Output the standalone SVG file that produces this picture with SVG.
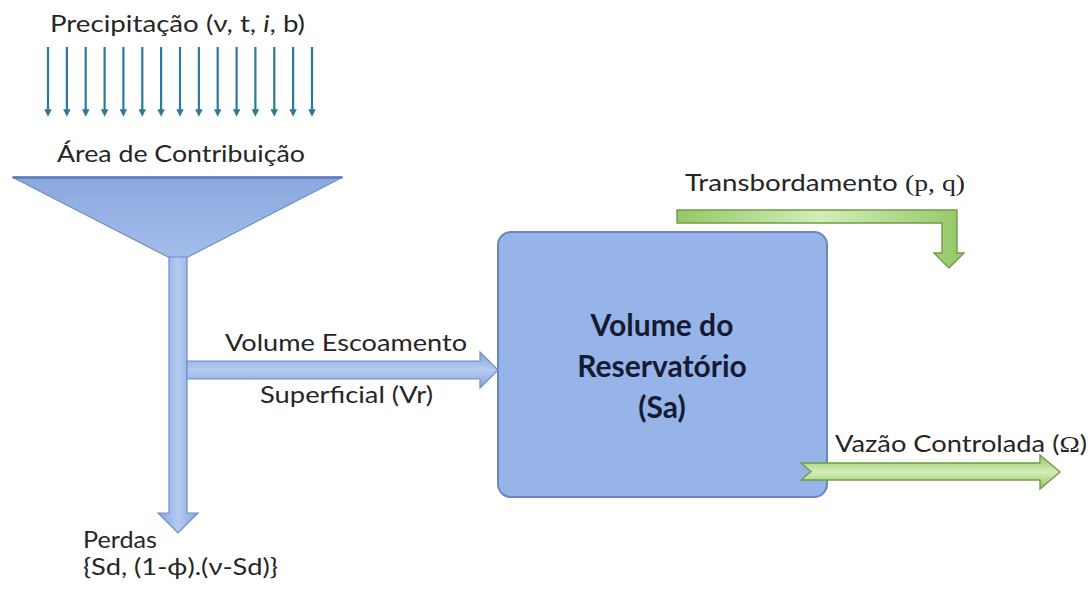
<svg xmlns="http://www.w3.org/2000/svg" width="1091" height="591" viewBox="0 0 1091 591">
  <defs>
    <style>
      .lbl { font-family: Lato, "Open Sans", "Liberation Sans", sans-serif; font-size: 23px; fill: #262626; }
      .ser { font-family: "Liberation Serif", "DejaVu Serif", serif; }
      .box { font-family: Lato, "Open Sans", "Liberation Sans", sans-serif; font-size: 30px; font-weight: bold; fill: #141b33; text-anchor: middle; }
      .rain { stroke: #2c7a9a; stroke-width: 2.2; fill: none; marker-end: url(#rainHead); }
      .blue { fill: url(#blueV); stroke: #6f8ec6; stroke-width: 1.2; }
      .blueH { fill: url(#blueH); stroke: #6f8ec6; stroke-width: 1.2; }
      .green { fill: url(#greenH); stroke: #6f9c48; stroke-width: 1.4; }
      .greenV { fill: url(#greenV); stroke: #6f9c48; stroke-width: 1.4; }
    </style>
    <marker id="rainHead" viewBox="0 0 10 10" refX="5" refY="5" markerWidth="3.4" markerHeight="3.4" orient="auto">
      <path d="M0,0 L10,5 L0,10 z" fill="#2c7a9a"/>
    </marker>
    <linearGradient id="blueV" x1="0" y1="0" x2="1" y2="0">
      <stop offset="0" stop-color="#86a5dd"/>
      <stop offset="0.5" stop-color="#b4cbf2"/>
      <stop offset="1" stop-color="#86a5dd"/>
    </linearGradient>
    <linearGradient id="blueH" x1="0" y1="0" x2="0" y2="1">
      <stop offset="0" stop-color="#86a5dd"/>
      <stop offset="0.5" stop-color="#b4cbf2"/>
      <stop offset="1" stop-color="#86a5dd"/>
    </linearGradient>
    <linearGradient id="funnelG" x1="0" y1="0" x2="0" y2="1">
      <stop offset="0" stop-color="#8aa8de"/>
      <stop offset="1" stop-color="#a3bdec"/>
    </linearGradient>
    <linearGradient id="greenH" x1="0" y1="0" x2="0" y2="1">
      <stop offset="0" stop-color="#94c866"/>
      <stop offset="0.5" stop-color="#d3edb8"/>
      <stop offset="1" stop-color="#94c866"/>
    </linearGradient>
    <linearGradient id="greenV" x1="0" y1="0" x2="1" y2="0">
      <stop offset="0" stop-color="#94c866"/>
      <stop offset="0.5" stop-color="#d3edb8"/>
      <stop offset="1" stop-color="#94c866"/>
    </linearGradient>
  </defs>

  <g id="precipitacao">
    <text class="lbl" x="50" y="32" textLength="255" lengthAdjust="spacingAndGlyphs">Precipitação (ν, t, <tspan font-style="italic">i</tspan>, b)</text>
    <g id="rain">
      <line class="rain" x1="48" y1="47" x2="48" y2="113"/>
      <line class="rain" x1="66.9" y1="47" x2="66.9" y2="113"/>
      <line class="rain" x1="85.7" y1="47" x2="85.7" y2="113"/>
      <line class="rain" x1="104.6" y1="47" x2="104.6" y2="113"/>
      <line class="rain" x1="123.4" y1="47" x2="123.4" y2="113"/>
      <line class="rain" x1="142.3" y1="47" x2="142.3" y2="113"/>
      <line class="rain" x1="161.1" y1="47" x2="161.1" y2="113"/>
      <line class="rain" x1="180" y1="47" x2="180" y2="113"/>
      <line class="rain" x1="198.9" y1="47" x2="198.9" y2="113"/>
      <line class="rain" x1="217.7" y1="47" x2="217.7" y2="113"/>
      <line class="rain" x1="236.6" y1="47" x2="236.6" y2="113"/>
      <line class="rain" x1="255.4" y1="47" x2="255.4" y2="113"/>
      <line class="rain" x1="274.3" y1="47" x2="274.3" y2="113"/>
      <line class="rain" x1="293.1" y1="47" x2="293.1" y2="113"/>
      <line class="rain" x1="312" y1="47" x2="312" y2="113"/>
    </g>
  </g>

  <g id="area-contribuicao">
    <text class="lbl" x="57" y="162" textLength="248" lengthAdjust="spacingAndGlyphs">Área de Contribuição</text>
    <polygon points="12,177 343,177 186,258 170,258" fill="url(#funnelG)" stroke="#6f8ec6" stroke-width="1.2"/>
    <line x1="13" y1="177.5" x2="342" y2="177.5" stroke="#5d7db8" stroke-width="2.5"/>
  </g>

  <g id="reservatorio">
    <rect x="498" y="232" width="329" height="265" rx="13" ry="13" fill="#97b4e8" stroke="#6a88c0" stroke-width="2"/>
    <text class="box" x="662" y="336">Volume do</text>
    <text class="box" x="662" y="377">Reservatório</text>
    <text class="box" x="662" y="418">(Sa)</text>
  </g>

  <g id="connectors">
    <path class="blue" d="M169,257 L187,257 L187,513 L198,513 L178,533 L158,513 L169,513 Z"/>
    <path class="blueH" d="M187,361 L480,361 L480,352 L498,370 L480,388 L480,379 L187,379 Z"/>
    <path class="greenV" d="M677,210 L957,210 L957,253 L964,253 L949,268 L934,253 L942,253 L942,223 L677,223 Z"/>
    <path class="green" d="M801,463 L1040,463 L1040,455 L1060,472 L1040,489 L1040,480 L801,480 L811,471.5 Z"/>
  </g>

  <g id="labels">
    <text class="lbl" x="225" y="351" textLength="242" lengthAdjust="spacingAndGlyphs">Volume Escoamento</text>
    <text class="lbl" x="260" y="403" textLength="173" lengthAdjust="spacingAndGlyphs">Superficial (Vr)</text>
    <text class="lbl" x="685" y="191" textLength="280" lengthAdjust="spacingAndGlyphs">Transbordamento <tspan class="ser">(p, q)</tspan></text>
    <text class="lbl" x="835" y="452" textLength="252" lengthAdjust="spacingAndGlyphs">Vazão Controlada (<tspan class="ser">Ω</tspan>)</text>
    <text class="lbl" x="83" y="548" textLength="74" lengthAdjust="spacingAndGlyphs">Perdas</text>
    <text class="lbl" x="83" y="575" textLength="195" lengthAdjust="spacingAndGlyphs">{Sd, (1-ϕ).(ν-Sd)}</text>
  </g>
</svg>
